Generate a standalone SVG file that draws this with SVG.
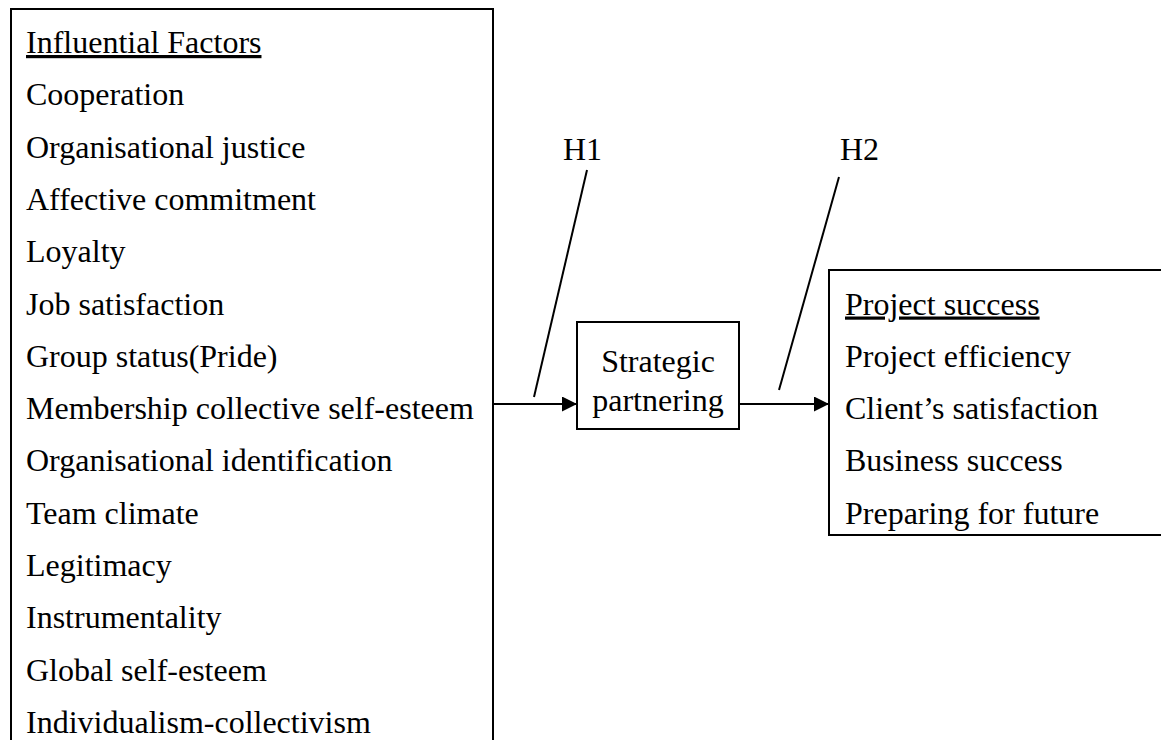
<svg xmlns="http://www.w3.org/2000/svg" width="1161" height="740" viewBox="0 0 1161 740">
<defs>
<style>
.t{font-family:"Liberation Serif","Times New Roman",serif;font-size:32px;fill:#000}
.box{fill:#fff;stroke:#000;stroke-width:2}
.ln{stroke:#000;stroke-width:2;fill:none}
</style>
<marker id="ah" viewBox="0 0 10 10" refX="10" refY="5" markerWidth="17" markerHeight="15" markerUnits="userSpaceOnUse" orient="auto">
<path d="M0,0 L10,5 L0,10 z" fill="#000"/>
</marker>
</defs>
<rect width="1161" height="740" fill="#fff"/>
<g id="influential-factors">
<rect class="box" x="11" y="9" width="482" height="760"/>
<text class="t" x="26" y="53" text-decoration="underline">Influential Factors</text>
<text class="t" x="26" y="105.3">Cooperation</text>
<text class="t" x="26" y="157.6">Organisational justice</text>
<text class="t" x="26" y="209.9">Affective commitment</text>
<text class="t" x="26" y="262.2">Loyalty</text>
<text class="t" x="26" y="314.5">Job satisfaction</text>
<text class="t" x="26" y="366.8">Group status(Pride)</text>
<text class="t" x="26" y="419.1">Membership collective self-esteem</text>
<text class="t" x="26" y="471.4">Organisational identification</text>
<text class="t" x="26" y="523.7">Team climate</text>
<text class="t" x="26" y="576">Legitimacy</text>
<text class="t" x="26" y="628.3">Instrumentality</text>
<text class="t" x="26" y="680.6">Global self-esteem</text>
<text class="t" x="26" y="732.9">Individualism-collectivism</text>
</g>
<g id="strategic-partnering">
<rect class="box" x="577" y="322" width="162" height="107"/>
<text class="t" x="658" y="372" text-anchor="middle">Strategic</text>
<text class="t" x="658" y="411" text-anchor="middle">partnering</text>
</g>
<g id="project-success">
<rect class="box" x="829" y="270" width="400" height="265"/>
<text class="t" x="845" y="314.5" text-decoration="underline">Project success</text>
<text class="t" x="845" y="366.8">Project efficiency</text>
<text class="t" x="845" y="419.1">Client’s satisfaction</text>
<text class="t" x="845" y="471.4">Business success</text>
<text class="t" x="845" y="523.7">Preparing for future</text>
</g>
<g id="connectors">
<line class="ln" x1="493" y1="404" x2="577" y2="404" marker-end="url(#ah)"/>
<line class="ln" x1="739" y1="404" x2="829" y2="404" marker-end="url(#ah)"/>
<line class="ln" x1="587" y1="170" x2="534" y2="397"/>
<line class="ln" x1="839" y1="177" x2="779" y2="390"/>
<text class="t" x="563" y="160">H1</text>
<text class="t" x="840" y="160">H2</text>
</g>
</svg>
